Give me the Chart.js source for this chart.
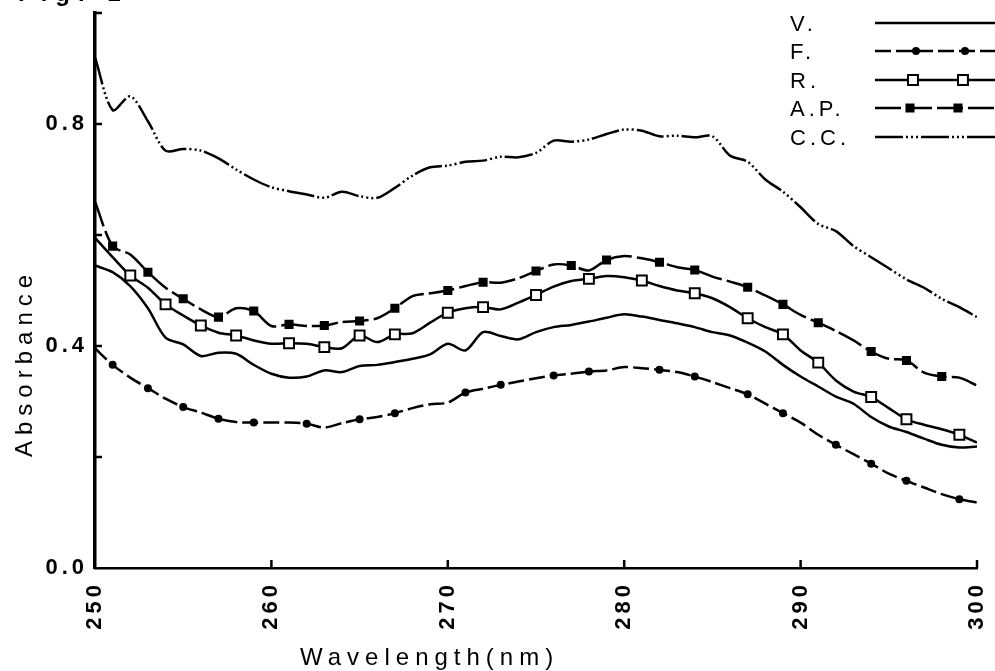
<!DOCTYPE html>
<html>
<head>
<meta charset="utf-8">
<script src="https://cdn.jsdelivr.net/npm/chart.js@4.4.0/dist/chart.umd.min.js"></script>
<style>
  html, body { margin: 0; padding: 0; background: #fff; }
  #wrap { width: 995px; height: 671px; }
</style>
</head>
<body>
<div id="wrap"><canvas id="absChart" width="995" height="671"></canvas></div>
<script>
// Wavelength grid (nm), one reading per nm
const wavelengths = [
  250, 251, 252, 253, 254, 255, 256, 257, 258, 259,
  260, 261, 262, 263, 264, 265, 266, 267, 268, 269,
  270, 271, 272, 273, 274, 275, 276, 277, 278, 279,
  280, 281, 282, 283, 284, 285, 286, 287, 288, 289,
  290, 291, 292, 293, 294, 295, 296, 297, 298, 299, 300
];

const seriesNames = ['V.', 'F.', 'R.', 'A.P.', 'C.C.'];

// absorbance
const vAbs = [
  0.545, 0.533, 0.508, 0.468, 0.415, 0.403, 0.382, 0.388, 0.386, 0.366,
  0.350, 0.343, 0.345, 0.356, 0.353, 0.364, 0.366, 0.371, 0.377, 0.385,
  0.404, 0.392, 0.425, 0.418, 0.412, 0.425, 0.434, 0.438, 0.444, 0.451,
  0.457, 0.453, 0.447, 0.441, 0.434, 0.425, 0.419, 0.406, 0.390, 0.366,
  0.345, 0.327, 0.309, 0.296, 0.272, 0.255, 0.245, 0.233, 0.222, 0.217, 0.219
];
const fAbs = [
  0.396, 0.366, 0.343, 0.324, 0.305, 0.290, 0.280, 0.269, 0.263, 0.262,
  0.262, 0.262, 0.260, 0.253, 0.261, 0.268, 0.272, 0.279, 0.288, 0.295,
  0.298, 0.316, 0.323, 0.330, 0.336, 0.342, 0.347, 0.350, 0.354, 0.356,
  0.362, 0.360, 0.357, 0.353, 0.345, 0.335, 0.324, 0.313, 0.296, 0.279,
  0.262, 0.240, 0.222, 0.205, 0.188, 0.170, 0.157, 0.145, 0.133, 0.124, 0.118
];
const rAbs = [
  0.595, 0.560, 0.527, 0.505, 0.475, 0.455, 0.437, 0.424, 0.419, 0.410,
  0.404, 0.405, 0.404, 0.398, 0.396, 0.419, 0.407, 0.421, 0.423, 0.442,
  0.460, 0.468, 0.470, 0.466, 0.478, 0.492, 0.507, 0.517, 0.521, 0.526,
  0.524, 0.518, 0.508, 0.500, 0.495, 0.486, 0.470, 0.450, 0.434, 0.421,
  0.392, 0.370, 0.338, 0.318, 0.308, 0.288, 0.268, 0.258, 0.250, 0.240, 0.226
];
const apAbs = [
  0.660, 0.580, 0.565, 0.533, 0.505, 0.485, 0.466, 0.452, 0.468, 0.463,
  0.436, 0.439, 0.436, 0.437, 0.443, 0.445, 0.450, 0.468, 0.490, 0.495,
  0.500, 0.508, 0.515, 0.514, 0.522, 0.535, 0.547, 0.545, 0.536, 0.555,
  0.562, 0.558, 0.551, 0.542, 0.537, 0.525, 0.516, 0.506, 0.491, 0.475,
  0.456, 0.442, 0.427, 0.410, 0.390, 0.377, 0.374, 0.352, 0.345, 0.343, 0.329
];
const ccAbs = [
  0.920, 0.825, 0.850, 0.805, 0.752, 0.755, 0.752, 0.738, 0.718, 0.700,
  0.686, 0.679, 0.673, 0.667, 0.678, 0.670, 0.667, 0.685, 0.707, 0.722,
  0.725, 0.732, 0.734, 0.741, 0.740, 0.748, 0.770, 0.768, 0.772, 0.782,
  0.790, 0.788, 0.778, 0.779, 0.776, 0.778, 0.743, 0.732, 0.700, 0.678,
  0.650, 0.620, 0.607, 0.580, 0.560, 0.540, 0.520, 0.505, 0.485, 0.470, 0.452
];

// wavelengths where the symbols sit on each curve
const fMarks = [251, 253, 255, 257, 259, 262, 265, 267, 271, 273, 276, 278, 282, 284, 287, 289, 292, 294, 296, 299];
const rMarks = [252, 254, 256, 258, 261, 263, 265, 267, 270, 272, 275, 278, 281, 284, 287, 289, 291, 294, 296, 299];
const apMarks = [251, 253, 255, 257, 259, 261, 263, 265, 267, 270, 272, 275, 277, 279, 282, 284, 287, 289, 291, 294, 296, 298];

// axis ticks
const xTickValues = [250, 260, 270, 280, 290, 300];
const yTickValues = [0.0, 0.2, 0.4, 0.6, 0.8, 1.0];
const yLabelValues = [0.0, 0.4, 0.8];

const INK = '#000';
const FONT = '"Liberation Sans", Arial, sans-serif';

// styling for each series (same order as seriesNames)
const styles = [
  { dash: [], marks: [], pointStyle: 'circle', radius: 0, fill: INK },
  { dash: [16, 5], marks: fMarks, pointStyle: 'circle', radius: 3, fill: INK },
  { dash: [], marks: rMarks, pointStyle: 'rect', radius: 7, fill: '#fff' },
  { dash: [26, 5], marks: apMarks, pointStyle: 'rect', radius: 5, fill: INK },
  { dash: [28, 3, 2, 3, 2, 3, 2, 3], marks: [], pointStyle: 'circle', radius: 0, fill: INK }
];
const seriesValues = [vAbs, fAbs, rAbs, apAbs, ccAbs];

function makeDataset(i) {
  const st = styles[i];
  return {
    label: seriesNames[i],
    data: wavelengths.map((w, k) => ({ x: w, y: seriesValues[i][k] })),
    borderColor: INK,
    borderWidth: 2.5,
    borderDash: st.dash,
    tension: 0.3,
    fill: false,
    pointStyle: st.pointStyle,
    pointRadius: ctx => st.marks.includes(wavelengths[ctx.dataIndex]) ? st.radius : 0,
    pointBackgroundColor: st.fill,
    pointBorderColor: INK,
    pointBorderWidth: 2
  };
}

// inward ticks, axis titles, legend and the clipped figure caption
const paperPlugin = {
  id: 'paper',
  beforeLayout(chart) { chart.ctx.letterSpacing = '4px'; },
  beforeDraw(chart) { chart.ctx.letterSpacing = '4px'; },
  afterDraw(chart) {
    const ctx = chart.ctx;
    const xs = chart.scales.x, ys = chart.scales.y;
    ctx.save();
    ctx.strokeStyle = INK;
    ctx.fillStyle = INK;
    ctx.lineWidth = 2.5;
    ctx.setLineDash([]);

    xTickValues.slice(1).forEach(v => {
      const px = xs.getPixelForValue(v);
      ctx.beginPath();
      ctx.moveTo(px, ys.bottom);
      ctx.lineTo(px, ys.bottom - 8);
      ctx.stroke();
    });
    yTickValues.slice(1).forEach(v => {
      const py = ys.getPixelForValue(v);
      ctx.beginPath();
      ctx.moveTo(xs.left, py);
      ctx.lineTo(xs.left + 7, py);
      ctx.stroke();
    });

    // axis titles
    ctx.font = '24px ' + FONT;
    ctx.letterSpacing = '6px';
    ctx.textAlign = 'left';
    ctx.textBaseline = 'alphabetic';
    ctx.fillText('Wavelength(nm)', 300, 665);

    ctx.save();
    ctx.translate(32, 457);
    ctx.rotate(-Math.PI / 2);
    ctx.fillText('Absorbance', 0, 0);
    ctx.restore();

    // caption cut off by the top edge
    ctx.font = 'bold 24px ' + FONT;
    ctx.letterSpacing = '8px';
    ctx.fillText('Fig. 1', 18, 1);

    // legend
    const rowY = [23, 51, 80, 108, 137];
    const markX = [[], [916, 965], [913, 963], [910, 958], []];
    seriesNames.forEach((name, i) => {
      const y = rowY[i];
      const st = styles[i];
      ctx.font = '22px ' + FONT;
      ctx.letterSpacing = '4px';
      ctx.fillStyle = INK;
      ctx.fillText(name, 790, y + 8);
      ctx.setLineDash(st.dash);
      ctx.lineWidth = 2.5;
      ctx.beginPath();
      ctx.moveTo(875, y);
      ctx.lineTo(995, y);
      ctx.stroke();
      ctx.setLineDash([]);
      markX[i].forEach(mx => {
        ctx.fillStyle = st.fill;
        ctx.lineWidth = 2;
        Chart.helpers.drawPoint(ctx, { pointStyle: st.pointStyle, radius: st.radius, borderWidth: 2, rotation: 0 }, mx, y);
      });
    });
    ctx.restore();
  }
};

new Chart(document.getElementById('absChart').getContext('2d'), {
  type: 'line',
  data: { datasets: seriesNames.map((_, i) => makeDataset(i)) },
  options: {
    responsive: false,
    animation: false,
    events: [],
    layout: { padding: { top: 13, right: 18, left: 0, bottom: 0 } },
    plugins: {
      legend: { display: false },
      tooltip: { enabled: false }
    },
    scales: {
      x: {
        type: 'linear',
        min: 250,
        max: 300,
        afterFit: s => { s.height = 103; s.paddingLeft = 0; s.paddingRight = 0; },
        afterBuildTicks: s => { s.ticks = xTickValues.map(v => ({ value: v })); },
        ticks: {
          minRotation: 90,
          maxRotation: 90,
          padding: 13,
          color: INK,
          font: { family: FONT, size: 22, weight: 'bold' },
          callback: v => String(v)
        },
        grid: { display: false, drawTicks: false },
        border: { display: true, color: INK, width: 2.5 }
      },
      y: {
        min: 0,
        max: 1.0,
        afterFit: s => { s.width = 95; s.paddingTop = 0; s.paddingBottom = 0; },
        afterBuildTicks: s => { s.ticks = yTickValues.map(v => ({ value: v })); },
        ticks: {
          padding: 7,
          color: INK,
          font: { family: FONT, size: 22, weight: 'bold' },
          callback: v => yLabelValues.some(l => Math.abs(l - v) < 1e-6) ? v.toFixed(1) : ''
        },
        grid: { display: false, drawTicks: false },
        border: { display: true, color: INK, width: 3.5 }
      }
    }
  },
  plugins: [paperPlugin]
});
</script>
</body>
</html>
